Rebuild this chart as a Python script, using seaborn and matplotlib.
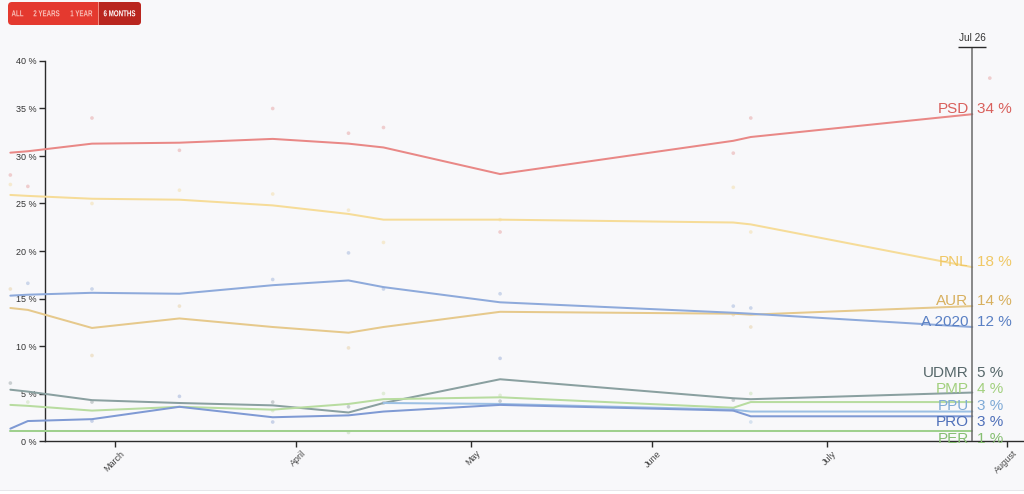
import numpy as np
import pandas as pd
import matplotlib
matplotlib.use("Agg")
import matplotlib.pyplot as plt
import matplotlib.dates as mdates
from matplotlib.patches import FancyBboxPatch, Rectangle, PathPatch
from matplotlib.transforms import IdentityTransform, Affine2D
from matplotlib.textpath import TextPath
from matplotlib.font_manager import FontProperties
import seaborn as sns

# ---------------- data ----------------
parties = ["PSD", "PNL", "AUR", "A 2020", "UDMR", "PMP", "PPU", "PRO", "PER"]

trend_dates = ["2020-02-12", "2020-02-15", "2020-02-26", "2020-03-12", "2020-03-28",
               "2020-04-10", "2020-04-16", "2020-05-06", "2020-06-15", "2020-06-18",
               "2020-07-26"]
psd_trend   = [30.35, 30.5, 31.3, 31.4, 31.8, 31.3, 30.9, 28.1, 31.6, 32.0, 34.4]
pnl_trend   = [25.9, 25.8, 25.5, 25.4, 24.8, 23.9, 23.3, 23.3, 23.0, 22.8, 18.3]
aur_trend   = [14.0, 13.8, 11.9, 12.9, 12.0, 11.4, 12.0, 13.6, 13.4, 13.3, 14.2]
a2020_trend = [15.3, 15.4, 15.6, 15.5, 16.4, 16.9, 16.2, 14.6, 13.5, 13.4, 12.0]
udmr_trend  = [5.4, 5.2, 4.3, 4.0, 3.75, 3.0, 4.0, 6.5, 4.5, 4.4, 5.1]
pmp_trend   = [3.8, 3.7, 3.2, 3.6, 3.3, 3.9, 4.4, 4.6, 3.5, 4.1, 4.1]
ppu_trend   = [np.nan, np.nan, np.nan, np.nan, np.nan, np.nan, 4.0, 3.9, 3.3, 3.1, 3.1]
pro_trend   = [1.3, 2.1, 2.3, 3.6, 2.5, 2.7, 3.1, 3.8, 3.2, 2.6, 2.6]
per_trend   = [1.1, 1.1, 1.1, 1.1, 1.1, 1.1, 1.1, 1.1, 1.1, 1.1, 1.1]

poll_dates = ["2020-02-12", "2020-02-12", "2020-02-12", "2020-02-12",
              "2020-02-15", "2020-02-15", "2020-02-15",
              "2020-02-26", "2020-02-26", "2020-02-26", "2020-02-26", "2020-02-26", "2020-02-26",
              "2020-03-12", "2020-03-12", "2020-03-12", "2020-03-12",
              "2020-03-28", "2020-03-28", "2020-03-28", "2020-03-28", "2020-03-28", "2020-03-28",
              "2020-04-10", "2020-04-10", "2020-04-10", "2020-04-10", "2020-04-10", "2020-04-10",
              "2020-04-16", "2020-04-16", "2020-04-16", "2020-04-16", "2020-04-16",
              "2020-05-06", "2020-05-06", "2020-05-06", "2020-05-06", "2020-05-06", "2020-05-06",
              "2020-06-15", "2020-06-15", "2020-06-15", "2020-06-15", "2020-06-15", "2020-06-15",
              "2020-06-18", "2020-06-18", "2020-06-18", "2020-06-18", "2020-06-18", "2020-06-18",
              "2020-07-29"]
poll_party = ["PSD", "PNL", "AUR", "UDMR",
              "PSD", "A 2020", "PMP",
              "PSD", "PNL", "A 2020", "AUR", "UDMR", "PRO",
              "PSD", "PNL", "AUR", "PRO",
              "PSD", "PNL", "A 2020", "UDMR", "PMP", "PRO",
              "PSD", "PNL", "A 2020", "AUR", "UDMR", "PER",
              "PSD", "PNL", "A 2020", "PMP", "UDMR",
              "PSD", "PNL", "A 2020", "PRO", "PMP", "UDMR",
              "PSD", "PNL", "A 2020", "AUR", "UDMR", "PRO",
              "PSD", "PNL", "A 2020", "AUR", "PMP", "PPU",
              "PSD"]
poll_values = [28.0, 27.0, 16.0, 6.1,
               26.8, 16.6, 4.1,
               34.0, 25.0, 16.0, 9.0, 4.1, 2.1,
               30.6, 26.4, 14.2, 4.7,
               35.0, 26.0, 17.0, 4.1, 3.2, 2.0,
               32.4, 24.3, 19.8, 9.8, 3.6, 0.9,
               33.0, 20.9, 16.0, 5.0, 4.0,
               22.0, 23.3, 15.5, 8.7, 4.8, 4.2,
               30.3, 26.7, 14.2, 13.3, 4.3, 3.3,
               34.0, 22.0, 14.0, 12.0, 5.0, 2.0,
               38.2]

range_buttons = ["ALL", "2 YEARS", "1 YEAR", "6 MONTHS"]
month_ticks = ["2020-03-01", "2020-04-01", "2020-05-01", "2020-06-01", "2020-07-01", "2020-08-01"]
month_labels = ["March", "April", "May", "June", "July", "August"]
y_ticks = [0, 5, 10, 15, 20, 25, 30, 35, 40]
marker_date = "2020-07-26"
marker_label = "Jul 26"

# ---------------- style ----------------
label_colors = {
    "PSD": "#d9605c", "PNL": "#f0c865", "AUR": "#d8b05e", "A 2020": "#5a80c4",
    "UDMR": "#56676a", "PMP": "#a2d07e", "PPU": "#7faad6", "PRO": "#4f70ba",
    "PER": "#86bf72",
}
line_colors = {
    "PSD": "#e98886", "PNL": "#f6dc98", "AUR": "#e6c98c", "A 2020": "#8eaadb",
    "UDMR": "#8aa0a0", "PMP": "#b8dca0", "PPU": "#9cc0e4", "PRO": "#7f9ad4",
    "PER": "#9fd08e",
}
bg = "#f8f8fa"

sns.set_theme(style="ticks")
plt.rcParams["font.family"] = ["Liberation Sans", "DejaVu Sans"]

W, H = 1024, 494
fig = plt.figure(figsize=(W / 100, H / 100), dpi=100)
fig.patch.set_facecolor(bg)
ax = fig.add_axes([0, 0, 1, 1])
ax.set_facecolor("none")

# pixel calibration: Mar 1 at x=115.3 px, 5.83 px/day ; 0% at y=441 px, 9.5 px per %
mar1 = mdates.date2num(pd.Timestamp("2020-03-01"))
ppd = 5.83
ax.set_xlim(mar1 - 115.3 / ppd, mar1 + (W - 115.3) / ppd)
ax.set_ylim(-(H - 441) / 9.5, 441 / 9.5)

# ---------------- data frames ----------------
series = [psd_trend, pnl_trend, aur_trend, a2020_trend, udmr_trend,
          pmp_trend, ppu_trend, pro_trend, per_trend]
rows = []
for p, vals in zip(parties, series):
    for d, v in zip(trend_dates, vals):
        rows.append((pd.Timestamp(d), p, v))
trend = pd.DataFrame(rows, columns=["date", "party", "value"]).dropna()

polls = pd.DataFrame({"date": pd.to_datetime(poll_dates), "party": poll_party,
                      "value": poll_values})

sns.scatterplot(data=polls, x="date", y="value", hue="party", hue_order=parties,
                palette=label_colors, s=7, alpha=0.28, linewidth=0, legend=False,
                ax=ax, zorder=2)
sns.lineplot(data=trend, x="date", y="value", hue="party", hue_order=parties,
             palette=line_colors, linewidth=1.45, legend=False, estimator=None,
             ax=ax, zorder=3)

# ---------------- axes ----------------
feb18 = mdates.date2num(pd.Timestamp("2020-02-18"))
for s in ["top", "right"]:
    ax.spines[s].set_visible(False)
ax.spines["left"].set_position(("data", feb18))
ax.spines["bottom"].set_position(("data", 0))
ax.spines["left"].set_bounds(0, 40)
ax.spines["bottom"].set_bounds(feb18, ax.get_xlim()[1])
for s in ["left", "bottom"]:
    ax.spines[s].set_color("#2b2b2b")
    ax.spines[s].set_linewidth(1.0)

ax.set_yticks(y_ticks)
ax.set_yticklabels([f"{v} %" for v in y_ticks])
ax.tick_params(axis="y", direction="out", length=4.5, width=1.0, color="#2b2b2b",
               labelsize=6.5, labelcolor="#333333", pad=1.5)
mt = [mdates.date2num(pd.Timestamp(d)) for d in month_ticks]
ax.set_xticks(mt)
ax.set_xticklabels([""] * len(mt))
ax.tick_params(axis="x", direction="out", length=4, width=1.0, color="#2b2b2b")
for m, lab in zip(mt, month_labels):
    ax.annotate(lab, xy=(m, 0), xytext=(6.0, -8.0), textcoords="offset points",
                ha="right", va="center", rotation=45, rotation_mode="anchor",
                fontsize=6.5, color="#444444")
ax.set_xlabel("")
ax.set_ylabel("")
ax.grid(False)

# ---------------- current-date marker ----------------
mk = mdates.date2num(pd.Timestamp(marker_date))
top_v = (441 - 47.3) / 9.5
ax.vlines(mk, 0, top_v, color="#6a6a6a", linewidth=1.1, zorder=4)
ax.hlines(top_v, mk - 14 / ppd, mk + 14 / ppd, color="#2b2b2b", linewidth=1.0, zorder=4)
ax.annotate(marker_label, xy=(mk, top_v), xytext=(0, 3), textcoords="offset points",
            ha="center", va="bottom", fontsize=7.2, color="#333333")

# ---------------- end labels with dodging ----------------
finals = np.array([s_[-1] for s_ in series], float)


def dodge(vals, gap):
    pos = vals.copy()
    order = np.argsort(pos)
    for _ in range(1000):
        moved = False
        for i in range(len(order) - 1):
            a, b = order[i], order[i + 1]
            d = pos[b] - pos[a]
            if d < gap - 1e-9:
                sh = (gap - d) / 2
                pos[a] -= sh
                pos[b] += sh
                moved = True
        if not moved:
            break
    return pos


label_y = dodge(finals, 1.73) + 0.5
for p, v, y in zip(parties, finals, label_y):
    c = label_colors[p]
    ax.annotate(p, xy=(mk, y), xytext=(-2.7, 0), textcoords="offset points",
                ha="right", va="center", fontsize=11, color=c, zorder=6)
    ax.annotate(f"{v:.0f} %", xy=(mk, y), xytext=(3.3, 0), textcoords="offset points",
                ha="left", va="center", fontsize=11, color=c, zorder=6)

# ---------------- range buttons ----------------
idt = IdentityTransform()
fig.patches.append(FancyBboxPatch((8, H - 25), 133, 23, boxstyle="round,pad=0,rounding_size=4",
                                  transform=idt, facecolor="#e4392f", edgecolor="none",
                                  figure=fig, zorder=1))
fig.patches.append(FancyBboxPatch((98, H - 25), 43, 23, boxstyle="round,pad=0,rounding_size=4",
                                  transform=idt, facecolor="#b9261f", edgecolor="none",
                                  figure=fig, zorder=2))
fig.patches.append(Rectangle((98, H - 25), 8, 23, transform=idt, facecolor="#b9261f",
                             edgecolor="none", figure=fig, zorder=3))
fig.patches.append(Rectangle((98, H - 25), 0.8, 23, transform=idt, facecolor="#f08a80",
                             edgecolor="none", figure=fig, zorder=4))
btn_x = [17.5, 46.5, 81.5, 119.5]
bfont = FontProperties(family="Liberation Sans", weight="bold")
for t, x in zip(range_buttons, btn_x):
    active = t == range_buttons[-1]
    tp = TextPath((0, 0), t, size=8.6, prop=bfont)
    bb = tp.get_extents()
    sx = 0.72
    tr = Affine2D().translate(-(bb.x0 + bb.width / 2), -(bb.y0 + bb.height / 2)) \
        .scale(sx, 1.0).translate(x, H - 13.3)
    fig.patches.append(PathPatch(tr.transform_path(tp), transform=idt,
                                 facecolor="#ffffff" if active else "#f9c0b9",
                                 edgecolor="none", figure=fig, zorder=5))

# bottom strip
fig.patches.append(Rectangle((0, 0), W, 3, transform=idt, facecolor="#ffffff",
                             edgecolor="none", figure=fig, zorder=1))
fig.patches.append(Rectangle((0, 3), W, 1, transform=idt, facecolor="#e6e6ea",
                             edgecolor="none", figure=fig, zorder=1))

fig.savefig("out.png", dpi=100, facecolor=bg)
